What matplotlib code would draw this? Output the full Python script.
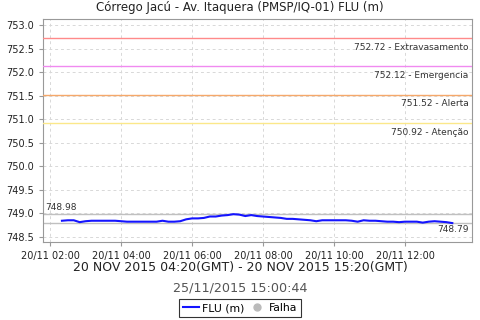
import numpy as np
import pandas as pd
import matplotlib
matplotlib.use('Agg')
import matplotlib.pyplot as plt
import matplotlib.dates as mdates
from matplotlib.lines import Line2D

# Dados: nível FLU (m) a cada 10 minutos, 20/11/2015 02:20 - 13:20
inicio = '2015-11-20 02:20'
nivel = [748.84, 748.85, 748.85, 748.81, 748.83, 748.84, 748.84, 748.84, 748.84, 748.84,
         748.83, 748.82, 748.82, 748.82, 748.82, 748.82, 748.82, 748.84, 748.82, 748.82,
         748.83, 748.87, 748.89, 748.89, 748.90, 748.93, 748.93, 748.95, 748.96, 748.98,
         748.97, 748.94, 748.96, 748.94, 748.93, 748.92, 748.91, 748.90, 748.88, 748.88,
         748.87, 748.86, 748.85, 748.83, 748.85, 748.85, 748.85, 748.85, 748.85, 748.84,
         748.82, 748.85, 748.84, 748.84, 748.83, 748.82, 748.82, 748.81, 748.82, 748.82,
         748.82, 748.80, 748.82, 748.83, 748.82, 748.81, 748.79]
tempos = pd.date_range(inicio, periods=len(nivel), freq='10min')

# Cotas de referência
cotas = [752.72, 752.12, 751.52, 750.92]
cotas_nomes = ['Extravasamento', 'Emergencia', 'Alerta', 'Atenção']
cotas_cores = ['#ff8a8a', '#f08af0', '#f5a86a', '#fbe88a']

maximo = 748.98
minimo = 748.79

plt.rcParams['font.family'] = 'DejaVu Sans'

fig = plt.figure(figsize=(4.8, 3.2), dpi=100)
ax = fig.add_axes([0.0896, 0.244, 0.8934, 0.697])

ax.plot(tempos, nivel, color='#1414ff', linewidth=1.5, zorder=5)

for valor, nome, cor in zip(cotas, cotas_nomes, cotas_cores):
    ax.axhline(valor, color=cor, linewidth=1.0, zorder=3)
    ax.text(0.992, valor - 0.1, f'{valor:.2f} - {nome}', transform=ax.get_yaxis_transform(),
            ha='right', va='top', fontsize=6.5, color='#333333')

ax.axhline(maximo, color='#c0c0c0', linewidth=1.0, zorder=2)
ax.axhline(minimo, color='#c0c0c0', linewidth=1.0, zorder=2)
ax.text(0.006, maximo + 0.05, f'{maximo:.2f}', transform=ax.get_yaxis_transform(),
        ha='left', va='bottom', fontsize=6.5, color='#333333')
ax.text(0.992, minimo - 0.05, f'{minimo:.2f}', transform=ax.get_yaxis_transform(),
        ha='right', va='top', fontsize=6.5, color='#333333')

ax.set_ylim(748.39, 753.13)
ax.set_yticks(np.arange(748.5, 753.01, 0.5))
ax.yaxis.set_major_formatter(plt.FormatStrFormatter('%.1f'))
ax.set_xlim(pd.Timestamp('2015-11-20 01:48'), pd.Timestamp('2015-11-20 13:53'))
ax.xaxis.set_major_locator(mdates.HourLocator(byhour=range(2, 14, 2)))
ax.xaxis.set_major_formatter(mdates.DateFormatter('%d/%m %H:%M'))

ax.grid(True, color='#d8d8d8', linestyle=(0, (3, 3)), linewidth=0.7)
ax.set_axisbelow(True)
for s in ax.spines.values():
    s.set_color('#999999')
ax.tick_params(labelsize=7, colors='#999999', labelcolor='#222222', length=3, width=0.8)

fig.text(0.5, 0.975, 'Córrego Jacú - Av. Itaquera (PMSP/IQ-01) FLU (m)',
         ha='center', va='center', fontsize=8.5, color='#222222')
fig.text(0.5, 0.163, '20 NOV 2015 04:20(GMT) - 20 NOV 2015 15:20(GMT)',
         ha='center', va='center', fontsize=9, color='#222222')
fig.text(0.5, 0.1, '25/11/2015 15:00:44',
         ha='center', va='center', fontsize=9.2, color='#555555')

handles = [Line2D([0], [0], color='#1414ff', linewidth=1.5),
           Line2D([0], [0], marker='o', color='none', markerfacecolor='#bbbbbb',
                  markeredgecolor='#bbbbbb', markersize=5)]
leg = fig.legend(handles, ['FLU (m)', 'Falha'], loc='center', bbox_to_anchor=(0.5, 0.037),
                 ncol=2, fontsize=7.8, frameon=True, fancybox=False, handlelength=1.5,
                 handletextpad=0.3, columnspacing=0.4, borderpad=0.35, borderaxespad=0)
leg.get_frame().set_edgecolor('black')
leg.get_frame().set_linewidth(0.8)

fig.savefig('out.png', dpi=100)
